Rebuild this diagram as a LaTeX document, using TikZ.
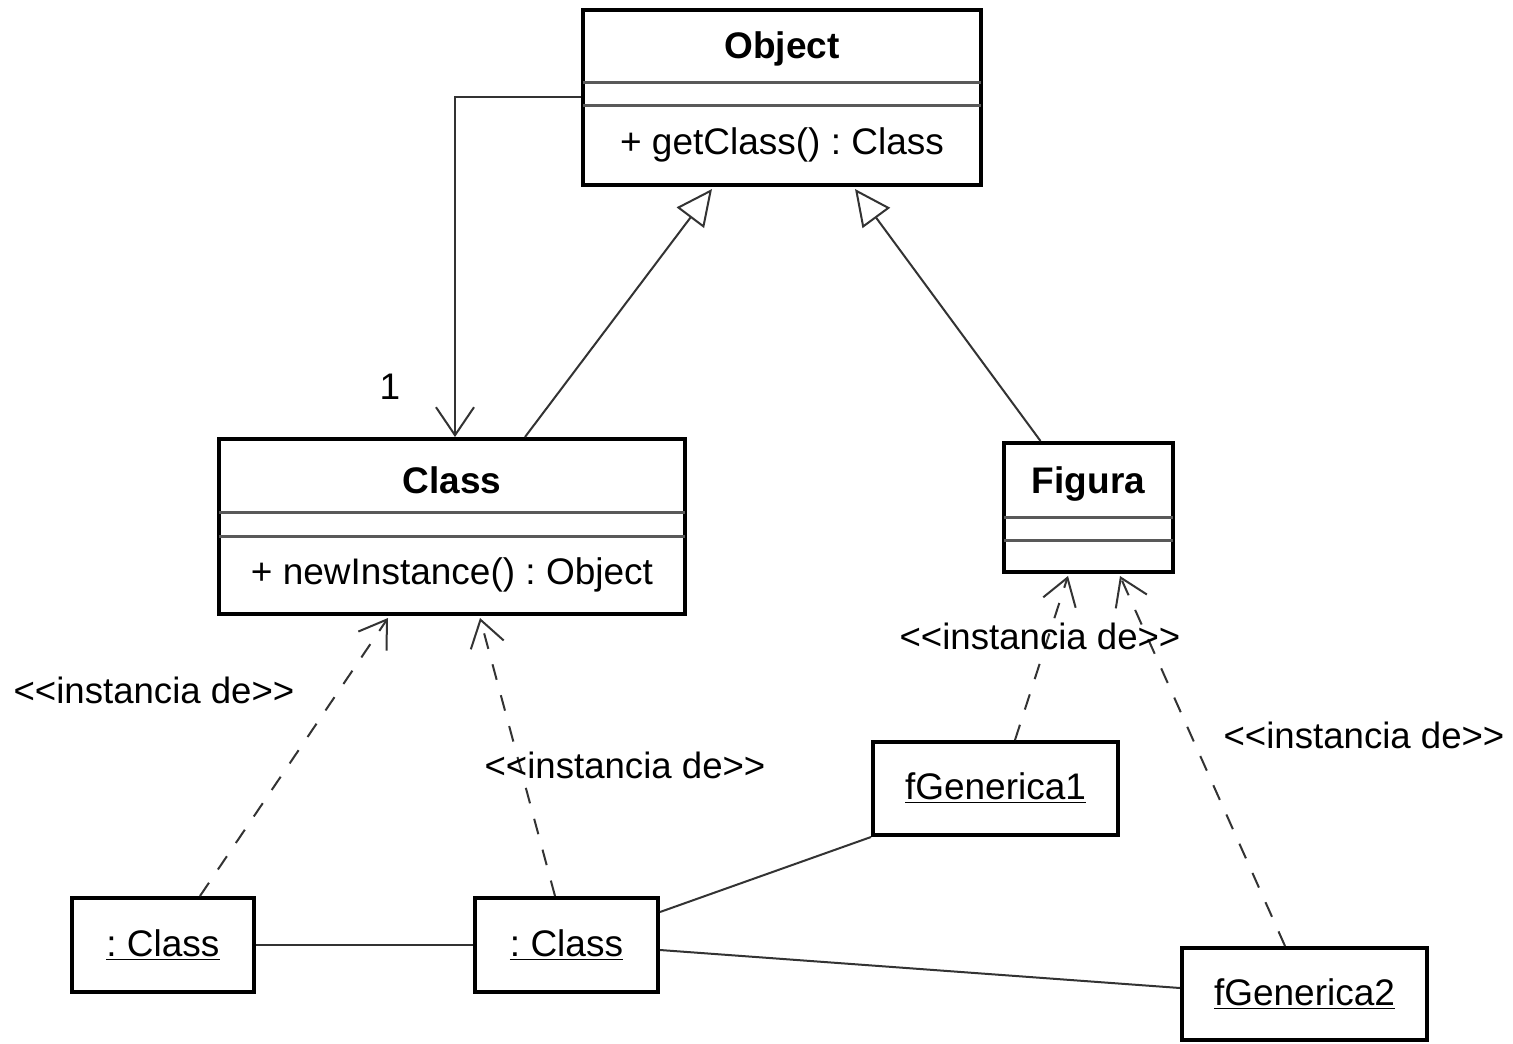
\documentclass[tikz,border=0pt]{standalone}
\usepackage{fontspec}
\setmainfont{Liberation Sans}
\usetikzlibrary{arrows.meta}
\frenchspacing
\newcommand{\inst}{<\kern0pt<instancia de>\kern0pt>}
\tikzset{
  x=0.5pt, y=-0.5pt,
  box/.style={draw=black, line width=2pt, fill=white, inner sep=0pt},
  divider/.style={draw=black!65, line width=1.5pt},
  conn/.style={draw=black!80, line width=1pt},
  gen/.style={conn, -{Triangle[open, length=18pt, width=17pt, fill=white]}},
  nav/.style={conn, -{Straight Barb[length=14pt, width=19pt, line width=1pt]}},
  dep/.style={conn, dash pattern=on 8pt off 8pt, -{Straight Barb[length=13pt, width=17pt, line width=1pt]}},
  txt/.style={font=\fontsize{18.5}{22}\selectfont, inner sep=0pt},
  btxt/.style={font=\fontsize{18.5}{22}\selectfont\bfseries, inner sep=0pt},
  lbl/.style={font=\fontsize{18.3}{22}\selectfont, inner sep=1pt},
}
\begin{document}
\begin{tikzpicture}
\useasboundingbox[fill=white] (0,0) rectangle (1513,1043);

% Object class
\node[box, minimum width=199pt, minimum height=87.5pt] (obj) at (782,97.5) {};
\draw[divider] (583,82.5) -- (981,82.5);
\draw[divider] (583,105.5) -- (981,105.5);
\node[btxt] (objname) at (782,49) {Object};
\node[txt] (objop) at (782,145) {+ getClass() : Class};

% Class class
\node[box, minimum width=233pt, minimum height=87.5pt] (cls) at (452,526.5) {};
\draw[divider] (219,512) -- (685,512);
\draw[divider] (219,536) -- (685,536);
\node[btxt] (clsname) at (452,480) {Class};
\node[txt] (clsop) at (452,575) {+ newInstance() : Object};

% Figura class
\node[box, minimum width=84.5pt, minimum height=64.5pt] (fig) at (1088.5,507.5) {};
\draw[divider] (1004,517) -- (1173,517);
\draw[divider] (1004,540) -- (1173,540);
\node[btxt] (figname) at (1088.5,484) {Figura};

% Instances
\node[box, txt, minimum width=91pt, minimum height=47pt] (inst1) at (163,945) {\underline{: Class}};
\node[box, txt, minimum width=91.5pt, minimum height=47pt] (inst2) at (566.5,945) {\underline{: Class}};
\node[box, txt, minimum width=122.5pt, minimum height=46.5pt] (fg1) at (995.5,788.5) {\underline{fGenerica1}};
\node[box, txt, minimum width=122.5pt, minimum height=46pt] (fg2) at (1304.5,994) {\underline{fGenerica2}};

% Association Object -> Class
\coordinate (c455) at (455,0);
\draw[nav] (obj.west) -| (c455 |- cls.north);
\node[txt] (mult) at (390,387) {1};

% Generalizations
\draw[gen] ([xshift=36.5pt]cls.north) -- ([xshift=-35pt,yshift=-1pt]obj.south);
\draw[gen] ([xshift=-24pt]fig.north) -- ([xshift=36.5pt,yshift=-1pt]obj.south);

% Instance dependencies
\draw[dep] ([xshift=18.5pt]inst1.north) -- ([xshift=-32pt,yshift=-1pt]cls.south);
\draw[dep] ([xshift=-5.75pt]inst2.north) -- ([xshift=14pt,yshift=-1pt]cls.south);
\draw[dep] ([xshift=9.75pt]fg1.north) -- ([xshift=-10.25pt,yshift=-1pt]fig.south);
\draw[dep] ([xshift=-9.75pt]fg2.north) -- ([xshift=15.75pt,yshift=-1pt]fig.south);

\node[lbl] (l1) at (154,690) {\inst};
\node[lbl] (l2) at (625,765) {\inst};
\node[lbl] (l3) at (1040,636) {\inst};
\node[lbl] (l4) at (1364,735) {\inst};

% Links
\draw[conn] (inst1.east) -- (inst2.west);
\draw[conn] ([yshift=16.5pt]inst2.east) -- (fg1.south west);
\draw[conn] ([yshift=-2.5pt]inst2.east) -- ([yshift=3pt]fg2.west);
\end{tikzpicture}
\end{document}
